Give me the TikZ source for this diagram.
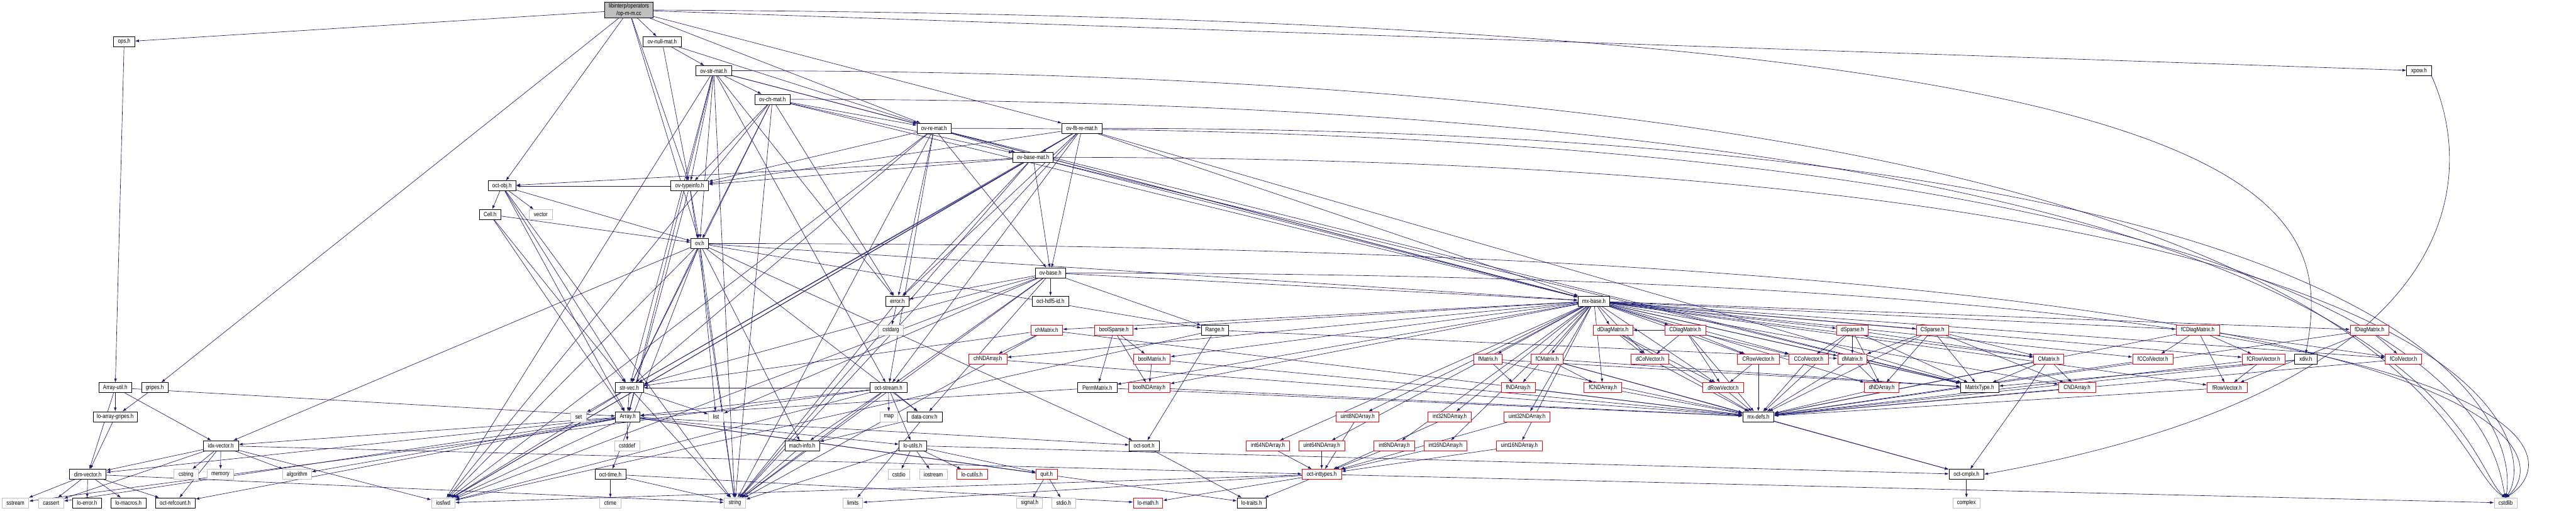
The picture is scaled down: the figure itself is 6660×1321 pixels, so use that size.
\documentclass[tikz,border=0pt]{standalone}
\usepackage{fontspec}
\newfontfamily\nf{Liberation Sans}[FakeStretch=0.82]
\usetikzlibrary{arrows.meta}
\definecolor{edgec}{RGB}{25,25,112}
\definecolor{gsev}{RGB}{191,191,191}
\pgfdeclarelayer{bg}
\pgfdeclarelayer{paper}
\pgfsetlayers{paper,bg,main}
\newcommand\nd[6]{\node[#5,minimum width=#4*0.01cm] (#1) at (#2,#3) {#6};}
\newcommand\E[2]{\begin{pgfonlayer}{bg}\foreach \t in {#2} \draw[ed] (#1) -- (\t);\end{pgfonlayer}}
\newcommand\C[2]{\begin{pgfonlayer}{bg}\draw[ed] (#1.east) .. controls (#1.east -| #2,0) and (#2,1180) .. (cstdlib.north);\end{pgfonlayer}}
\begin{document}
\begin{tikzpicture}[x=0.01cm,y=-0.01cm,
  every node/.style={font=\nf\fontsize{4.5pt}{5.2pt}\selectfont, minimum height=0.26cm, inner sep=0pt, line width=0.35pt},
  nb/.style={draw=black,fill=white},
  nr/.style={draw=red,fill=white},
  ng/.style={draw=gsev,fill=white},
  ed/.style={draw=edgec,line width=0.3pt,-{Latex[length=1.0mm,width=0.7mm]}}]
\begin{pgfonlayer}{paper}
\fill[white] (0,0) rectangle (6660,1321);
\end{pgfonlayer}
\useasboundingbox (0,0) rectangle (6660,1321);
% rows
\node[draw=black,fill=gsev,minimum width=1.25cm,minimum height=0.40cm,align=center] (root) at (1626,26) {libinterp/operators\\/op-m-m.cc};
\nd{opsh}{321}{108}{55}{nb}{ops.h}
\nd{nullmat}{1712}{108}{98}{nb}{ov-null-mat.h}
\nd{strmat}{1845}{183}{93}{nb}{ov-str-mat.h}
\nd{xpow}{6254}{183}{64}{nb}{xpow.h}
\nd{chmat}{1997}{257}{91}{nb}{ov-ch-mat.h}
\nd{remat}{2415}{332}{88}{nb}{ov-re-mat.h}
\nd{fltremat}{2797}{332}{103}{nb}{ov-flt-re-mat.h}
\nd{basemat}{2671}{407}{104}{nb}{ov-base-mat.h}
\nd{octobj}{1298}{481}{72}{nb}{oct-obj.h}
\nd{typeinfo}{1783}{481}{97}{nb}{ov-typeinfo.h}
\nd{cell}{1267}{555}{56}{nb}{Cell.h}
\nd{vector}{1398}{555}{59}{ng}{vector}
\nd{ovh}{1809}{630}{46}{nb}{ov.h}
\nd{ovbase}{2716}{706}{77}{nb}{ov-base.h}
\nd{errorh}{2320}{779}{59}{nb}{error.h}
\nd{hdf5}{2716}{779}{95}{nb}{oct-hdf5-id.h}
\nd{mxbase}{4121}{779}{82}{nb}{mx-base.h}
\nd{cstdarg}{2303}{854}{65}{ng}{cstdarg}
\nd{chMatrix}{2706}{854}{82}{nr}{chMatrix.h}
\nd{boolSparse}{2880}{854}{99}{nr}{boolSparse.h}
\nd{Range}{3141}{854}{70}{nb}{Range.h}
\nd{dDiag}{4170}{854}{102}{nr}{dDiagMatrix.h}
\nd{CDiag}{4357}{854}{106}{nr}{CDiagMatrix.h}
\nd{dSparse}{4789}{854}{81}{nr}{dSparse.h}
\nd{CSparse}{4996}{854}{83}{nr}{CSparse.h}
\nd{fCDiag}{5682}{854}{112}{nr}{fCDiagMatrix.h}
\nd{fDiag}{6126}{854}{100}{nr}{fDiagMatrix.h}
\nd{chND}{2554}{929}{99}{nr}{chNDArray.h}
\nd{boolMat}{2978}{929}{95}{nr}{boolMatrix.h}
\nd{fMatrix}{3847}{929}{73}{nr}{fMatrix.h}
\nd{fCMatrix}{4000}{929}{82}{nr}{fCMatrix.h}
\nd{dColVec}{4266}{929}{98}{nr}{dColVector.h}
\nd{CRowVec}{4546}{929}{109}{nr}{CRowVector.h}
\nd{CColVec}{4676}{929}{102}{nr}{CColVector.h}
\nd{dMatrix}{4789}{929}{76}{nr}{dMatrix.h}
\nd{CMatrix}{5297}{929}{78}{nr}{CMatrix.h}
\nd{fCColVec}{5566}{929}{105}{nr}{fCColVector.h}
\nd{fCRowVec}{5852}{929}{111}{nr}{fCRowVector.h}
\nd{xdiv}{5961}{929}{58}{nb}{xdiv.h}
\nd{fColVec}{6214}{929}{94}{nr}{fColVector.h}
\nd{arrutil}{298}{1003}{85}{nb}{Array-util.h}
\nd{gripes}{400}{1003}{68}{nb}{gripes.h}
\nd{strvec}{1627}{1003}{73}{nb}{str-vec.h}
\nd{octstream}{2297}{1003}{95}{nb}{oct-stream.h}
\nd{perm}{2837}{1003}{101}{nb}{PermMatrix.h}
\nd{boolND}{2971}{1003}{108}{nr}{boolNDArray.h}
\nd{fND}{3925}{1003}{88}{nr}{fNDArray.h}
\nd{fCND}{4144}{1003}{98}{nr}{fCNDArray.h}
\nd{dRowVec}{4455}{1003}{105}{nr}{dRowVector.h}
\nd{dND}{4865}{1003}{90}{nr}{dNDArray.h}
\nd{mtype}{5118}{1003}{99}{nb}{MatrixType.h}
\nd{CND}{5370}{1003}{95}{nr}{CNDArray.h}
\nd{fRowVec}{5758}{1003}{104}{nr}{fRowVector.h}
\nd{loarrg}{298}{1078}{114}{nb}{lo-array-gripes.h}
\nd{set}{1496}{1078}{40}{ng}{set}
\nd{array}{1623}{1078}{63}{nb}{Array.h}
\nd{list}{1851}{1078}{39}{ng}{list}
\nd{map}{2298}{1078}{46}{ng}{map}
\nd{dataconv}{2390}{1078}{91}{nb}{data-conv.h}
\nd{u8}{3510}{1078}{111}{nr}{uint8NDArray.h}
\nd{i32}{3748}{1078}{112}{nr}{int32NDArray.h}
\nd{u32}{3948}{1078}{118}{nr}{uint32NDArray.h}
\nd{mxdefs}{4546}{1078}{81}{nb}{mx-defs.h}
\nd{idx}{571}{1153}{91}{nb}{idx-vector.h}
\nd{cstddef}{1621}{1153}{65}{ng}{cstddef}
\nd{machinfo}{2074}{1153}{90}{nb}{mach-info.h}
\nd{loutils}{2360}{1153}{71}{nb}{lo-utils.h}
\nd{octsort}{2958}{1153}{77}{nb}{oct-sort.h}
\nd{i64}{3278}{1153}{113}{nr}{int64NDArray.h}
\nd{u64}{3417}{1153}{119}{nr}{uint64NDArray.h}
\nd{i8}{3605}{1153}{105}{nr}{int8NDArray.h}
\nd{i16}{3737}{1153}{111}{nr}{int16NDArray.h}
\nd{u16}{3928}{1153}{118}{nr}{uint16NDArray.h}
\nd{dimvec}{227}{1227}{95}{nb}{dim-vector.h}
\nd{cstring}{481}{1227}{62}{ng}{cstring}
\nd{memory}{570}{1227}{69}{ng}{memory}
\nd{algorithm}{768}{1227}{74}{ng}{algorithm}
\nd{octtime}{1578}{1227}{80}{nb}{oct-time.h}
\nd{cstdio}{2324}{1227}{56}{ng}{cstdio}
\nd{iostream}{2413}{1227}{72}{ng}{iostream}
\nd{locutils}{2513}{1227}{80}{nr}{lo-cutils.h}
\nd{quit}{2706}{1227}{55}{nr}{quit.h}
\nd{inttypes}{3417}{1227}{102}{nr}{oct-inttypes.h}
\nd{cmplx}{5084}{1227}{90}{nb}{oct-cmplx.h}
\nd{sstream}{40}{1301}{69}{ng}{sstream}
\nd{cassert}{132}{1301}{65}{ng}{cassert}
\nd{loerror}{225}{1301}{74}{nb}{lo-error.h}
\nd{lomacros}{332}{1301}{91}{nb}{lo-macros.h}
\nd{refcount}{453}{1301}{103}{nb}{oct-refcount.h}
\nd{iosfwd}{1146}{1301}{61}{ng}{iosfwd}
\nd{ctime}{1578}{1301}{55}{ng}{ctime}
\nd{string}{1900}{1301}{56}{ng}{string}
\nd{limits}{2205}{1301}{51}{ng}{limits}
\nd{signal}{2662}{1301}{67}{ng}{signal.h}
\nd{stdio}{2750}{1301}{61}{ng}{stdio.h}
\nd{lomath}{2968}{1301}{76}{nr}{lo-math.h}
\nd{lotraits}{3236}{1301}{75}{nb}{lo-traits.h}
\nd{complex}{5084}{1301}{71}{ng}{complex}
\nd{cstdlib}{6478}{1301}{59}{ng}{cstdlib}
% edges
\E{root}{opsh,gripes,octobj,ovh,typeinfo,nullmat,remat,fltremat,xpow}
\begin{pgfonlayer}{bg}
\draw[ed] (root.east) .. controls (5900,45) and (6040,500) .. (xdiv.north);
\draw[ed] (xpow.south east) .. controls (6400,450) and (6400,1000) .. (cmplx.east);
\end{pgfonlayer}
\E{opsh}{arrutil}
\E{nullmat}{strmat,remat,typeinfo}
\E{strmat}{iosfwd,string,array,mxbase,strvec,errorh,octstream,ovh,chmat,remat,typeinfo}
\E{chmat}{iosfwd,string,mxbase,strvec,errorh,ovh,basemat,remat,typeinfo}
\E{remat}{iosfwd,string,mxbase,strvec,errorh,octstream,ovbase,basemat,typeinfo,mtype}
\E{fltremat}{iosfwd,string,mxbase,strvec,errorh,octstream,ovbase,basemat,typeinfo,mtype}
\E{basemat}{iosfwd,string,mxbase,strvec,mtype,errorh,octobj,ovbase,typeinfo}
\C{strmat}{6300}
\C{chmat}{6350}
\C{remat}{6450}
\C{fltremat}{6500}
\C{basemat}{6555}
\C{ovh}{6605}
\C{ovbase}{6650}
\E{octobj}{string,vector,strvec,array,ovh,cell}
\E{typeinfo}{string,array,octobj,ovh}
\E{cell}{array,strvec,ovh}
\E{ovh}{iosfwd,string,list,Range,dataconv,idx,machinfo,mxbase,octtime,strvec,octsort}
\E{ovbase}{iosfwd,list,string,Range,dataconv,mxbase,strvec,errorh,hdf5,octstream}
\E{errorh}{cstdarg,string}
\E{mxbase}{mtype,boolMat,boolND,chMatrix,chND,dColVec,dRowVec,dMatrix,dND,CColVec,CRowVec,CMatrix,CND,fColVec,fRowVec,fMatrix,fND,fCColVec,fCRowVec,fCMatrix,fCND,i8,i16,i32,i64,u8,u16,u32,u64,boolSparse,dSparse,CSparse,dDiag,CDiag,fDiag,fCDiag,perm}
\E{Range}{iosfwd,dMatrix,octsort}
\E{chMatrix}{chND,mxdefs,string,strvec}
\E{chND}{mxdefs}
\E{boolSparse}{perm,boolMat,boolND}
\E{boolMat}{boolND,mxdefs}
\E{boolND}{mxdefs}
\E{perm}{array,mxdefs}
\E{dDiag}{dColVec,dRowVec,mxdefs}
\E{CDiag}{dColVec,dRowVec,CRowVec,CColVec,dDiag,mxdefs}
\E{fMatrix}{fND,mtype,mxdefs}
\E{fCMatrix}{fCND,mtype,mxdefs,cmplx}
\E{dColVec}{mxdefs}
\E{dRowVec}{mxdefs}
\E{fND}{mxdefs}
\E{fCND}{mxdefs}
\E{dSparse}{dMatrix,dND,CMatrix,CColVec,mtype,mxdefs}
\E{CSparse}{dMatrix,dND,CMatrix,CND,mtype,mxdefs}
\E{CRowVec}{dRowVec,mxdefs}
\E{CColVec}{mxdefs}
\E{dMatrix}{dND,mtype,mxdefs}
\E{dND}{mxdefs}
\E{CMatrix}{CND,mtype,cmplx,mxdefs}
\E{CND}{mxdefs}
\E{fCDiag}{fCColVec,fRowVec,fCRowVec,fColVec,mxdefs}
\E{fDiag}{fRowVec,fColVec,mxdefs}
\E{fCRowVec}{fRowVec,mxdefs}
\E{fCColVec}{mxdefs}
\E{fRowVec}{mxdefs}
\E{fColVec}{mxdefs}
\E{xdiv}{mxdefs,mtype}
\E{u8}{inttypes}
\E{i32}{inttypes}
\E{u32}{inttypes}
\E{u64}{inttypes}
\E{i8}{inttypes}
\E{i16}{inttypes}
\E{u16}{inttypes}
\E{i64}{inttypes}
\E{mxdefs}{cmplx}
\E{cmplx}{complex}
\E{arrutil}{array,dimvec,idx,loarrg}
\E{gripes}{loarrg}
\E{loarrg}{dimvec}
\E{strvec}{iosfwd,list,set,string,array}
\E{array}{cassert,cstddef,algorithm,iosfwd,dimvec,idx,lotraits,loutils,octsort,quit,refcount}
\E{idx}{cassert,cstring,memory,algorithm,iosfwd,dimvec,inttypes,refcount}
\E{dimvec}{sstream,cassert,string,loerror,lomacros,refcount}
\E{machinfo}{string}
\E{octtime}{ctime,string,lomath}
\E{octstream}{iosfwd,sstream,string,map,array,dataconv,loutils,machinfo,strvec}
\E{dataconv}{limits,machinfo}
\E{loutils}{cstdio,iostream,string,locutils,cmplx,quit}
\E{quit}{signal,stdio}
\E{octsort}{lotraits}
\E{inttypes}{lomath,lotraits,cstdlib,limits,iosfwd}
\end{tikzpicture}
\end{document}
